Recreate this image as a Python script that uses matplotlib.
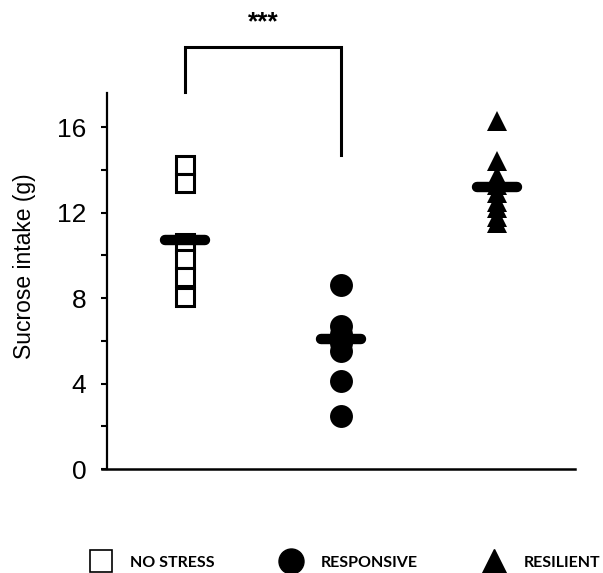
import matplotlib.pyplot as plt
from matplotlib.lines import Line2D

# Sucrose intake per animal (g)
groups = ['NO STRESS', 'RESPONSIVE', 'RESILIENT']
no_stress = [14.25, 13.4, 10.6, 9.85, 9.0, 8.05]
responsive = [8.6, 6.7, 6.3, 5.9, 5.5, 4.1, 2.5]
resilient = [16.3, 14.4, 13.7, 13.3, 12.9, 12.5, 12.2, 11.8, 11.5]
group_means = [10.7, 6.1, 13.2]
y_ticks = [0, 4, 8, 12, 16]
y_minor = [2, 6, 10, 14]

plt.rcParams['font.family'] = ['Liberation Sans', 'DejaVu Sans']

fig = plt.figure(figsize=(6.03, 5.73), dpi=100)
ax = fig.add_axes([0.1774, 0.1815, 0.7762, 0.6562])

styles = [
    dict(marker='s', markersize=12.5, markerfacecolor='white', markeredgecolor='black', markeredgewidth=2.2),
    dict(marker='o', markersize=16.5, markerfacecolor='black', markeredgecolor='black', markeredgewidth=0),
    dict(marker='^', markersize=15, markerfacecolor='black', markeredgecolor='black', markeredgewidth=0),
]

for i, vals in enumerate([no_stress, responsive, resilient]):
    xpos = i + 1
    ax.plot([xpos] * len(vals), vals, linestyle='none', zorder=3, **styles[i])
    ax.hlines(group_means[i], xpos - 0.13, xpos + 0.13, colors='black',
              linewidth=7.5, capstyle='round', zorder=4)

# significance bracket between NO STRESS and RESPONSIVE
ax.plot([1, 1, 2, 2], [17.65, 19.75, 19.75, 14.7], color='black',
        linewidth=2.2, clip_on=False, solid_joinstyle='miter')
ax.text(1.5, 20.9, '***', ha='center', va='center', fontsize=19, fontweight='bold')

ax.set_xlim(0.5, 3.5)
ax.set_ylim(0, 17.6)
ax.set_yticks(y_ticks)
ax.set_yticks(y_minor, minor=True)
ax.set_xticks([])
ax.tick_params(axis='y', which='both', direction='out', length=4, width=1.5,
               labelsize=19, pad=11)
ax.spines['top'].set_visible(False)
ax.spines['right'].set_visible(False)
ax.spines['left'].set_linewidth(1.6)
ax.spines['bottom'].set_linewidth(1.8)
ax.spines['bottom'].set_bounds(0.47, 3.5)

ax.set_ylabel('Sucrose intake (g)', fontsize=16.5)
ax.yaxis.set_label_coords(-0.152, 0.54)

handles = [
    Line2D([], [], linestyle='none', marker='s', markersize=16, markerfacecolor='white',
           markeredgecolor='black', markeredgewidth=1.2),
    Line2D([], [], linestyle='none', marker='o', markersize=18, color='black'),
    Line2D([], [], linestyle='none', marker='^', markersize=17, color='black'),
]
leg = fig.legend(handles, groups, ncol=3, loc='center', bbox_to_anchor=(0.571, 0.018),
                 frameon=False, handlelength=1.5, handletextpad=1.12, columnspacing=4.0,
                 borderpad=0.2,
                 prop={'family': ['Lato', 'DejaVu Sans'], 'weight': 'bold', 'size': 11.5})

fig.savefig('out.png', dpi=100)
